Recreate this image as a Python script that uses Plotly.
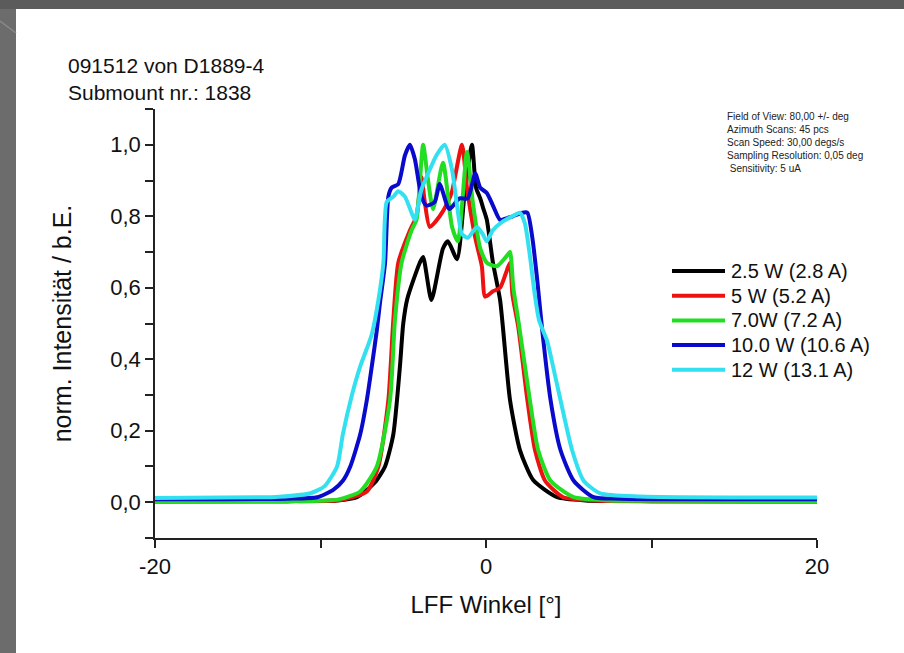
import plotly.graph_objects as go

# ---------------- data ----------------
series_names = ["2.5 W (2.8 A)", "5 W (5.2 A)", "7.0W (7.2 A)", "10.0 W (10.6 A)", "12 W (13.1 A)"]
series_colors = ["#000000", "#ee1111", "#22dd22", "#0a0acc", "#33e0f0"]

angle_25w = [-20, -12, -9, -7.8, -6.7, -6.1, -5.6, -5.2, -5.0, -4.75, -4.0, -3.8, -3.3, -2.6, -2.3,
             -1.75, -1.3, -0.85, -0.6, -0.35, -0.15, 0.05, 0.42, 0.85, 1.45, 2.05, 2.85, 4.3, 6, 10, 20]
intens_25w = [0.003, 0.003, 0.005, 0.014, 0.056, 0.1, 0.19, 0.38, 0.5, 0.57, 0.67, 0.686, 0.566, 0.71, 0.73,
              0.68, 0.86, 1.0, 0.88, 0.85, 0.82, 0.79, 0.67, 0.566, 0.286, 0.146, 0.062, 0.014, 0.005, 0.003, 0.003]

angle_5w = [-20, -12, -8.8, -7.2, -6.5, -5.9, -5.6, -5.3, -4.6, -4.2, -3.9, -3.7, -3.4, -2.8, -2.3, -2.05,
            -1.45, -1.15, -0.65, -0.25, -0.05, 0.42, 0.85, 1.27, 1.45, 1.6, 1.95, 2.5, 2.96, 3.57, 4.66, 6.9, 10, 20]
intens_5w = [0.002, 0.003, 0.006, 0.03, 0.1, 0.286, 0.51, 0.67, 0.76, 0.80, 0.91, 0.84, 0.77, 0.80, 0.84, 0.87,
             1.0, 0.88, 0.74, 0.66, 0.575, 0.59, 0.60, 0.65, 0.67, 0.58, 0.49, 0.286, 0.146, 0.06, 0.014, 0.004, 0.003, 0.002]

angle_7w = [-20, -10, -8.9, -7.6, -6.6, -5.8, -5.5, -5.1, -4.5, -4.2, -3.8, -3.5, -3.2, -2.6, -2.05, -1.7,
            -1.15, -0.8, -0.35, 0.05, 0.65, 1.27, 1.45, 1.65, 1.95, 2.65, 3.15, 3.9, 5.3, 7.5, 10, 20]
intens_7w = [0.003, 0.004, 0.008, 0.03, 0.1, 0.286, 0.51, 0.67, 0.76, 0.79, 1.0, 0.9, 0.82, 0.95, 0.77, 0.73,
             0.98, 0.84, 0.71, 0.67, 0.66, 0.69, 0.70, 0.60, 0.51, 0.286, 0.146, 0.06, 0.014, 0.005, 0.004, 0.003]

angle_10w = [-20, -12, -10.2, -9.25, -8.65, -8.2, -7.6, -7.2, -6.9, -6.6, -6.4, -6.1, -5.9, -5.7, -5.3, -4.9,
             -4.6, -4.3, -3.9, -3.6, -3.1, -2.8, -2.35, -2.2, -1.6, -1.1, -0.65, -0.35, 0.05, 0.42, 0.85, 1.27,
             1.63, 2.2, 2.5, 2.8, 3.1, 3.4, 3.9, 4.5, 5.3, 6.5, 8.1, 20]
intens_10w = [0.008, 0.01, 0.014, 0.034, 0.06, 0.1, 0.19, 0.286, 0.38, 0.48, 0.56, 0.67, 0.855, 0.88, 0.89, 0.97,
              1.0, 0.96, 0.855, 0.83, 0.84, 0.89, 0.83, 0.82, 0.85, 0.85, 0.92, 0.88, 0.865, 0.83, 0.79, 0.795,
              0.80, 0.81, 0.81, 0.74, 0.62, 0.48, 0.286, 0.146, 0.06, 0.014, 0.01, 0.008]

angle_12w = [-20, -13, -12.5, -10.6, -9.75, -9.0, -8.65, -8.1, -7.6, -7.2, -6.9, -6.5, -6.2, -6.0, -5.6, -5.3,
             -4.9, -4.5, -4.3, -3.9, -3.4, -3.0, -2.5, -2.05, -1.75, -1.45, -1.1, -0.55, -0.2, 0.05, 0.4, 1.0,
             1.6, 2.05, 2.35, 2.65, 2.95, 3.2, 3.7, 4.05, 4.5, 5.2, 5.9, 6.9, 9.3, 20]
intens_12w = [0.012, 0.014, 0.015, 0.025, 0.045, 0.1, 0.19, 0.3, 0.38, 0.43, 0.47, 0.566, 0.67, 0.84, 0.855, 0.87,
              0.855, 0.81, 0.79, 0.875, 0.93, 0.97, 1.0, 0.93, 0.83, 0.75, 0.74, 0.77, 0.75, 0.73, 0.76, 0.785,
              0.80, 0.81, 0.78, 0.69, 0.58, 0.51, 0.45, 0.38, 0.286, 0.146, 0.06, 0.025, 0.016, 0.013]

angles = [angle_25w, angle_5w, angle_7w, angle_10w, angle_12w]
intensities = [intens_25w, intens_5w, intens_7w, intens_10w, intens_12w]

x_tickvals = [-20, 0, 20]
x_ticktext = ["-20", "0", "20"]

header_text = "091512 von D1889-4<br>Submount nr.: 1838"
info_text = ("Field of View: 80,00 +/- deg<br>Azimuth Scans: 45 pcs<br>Scan Speed: 30,00 degs/s"
             "<br>Sampling Resolution: 0,05 deg<br> Sensitivity: 5 uA")
x_title = "LFF Winkel [°]"
y_title = "norm. Intensität / b.E."

# ---------------- figure ----------------
FONT = "Liberation Sans, Arial, sans-serif"
W, H = 904, 653
L, R, T, B = 155, 87, 109, 115
PW, PH = W - L - R, H - T - B


def px_x(px):
    return (px - L) / PW


def px_y(py):
    return (H - B - py) / PH


fig = go.Figure()
for name, xs, ys, col in zip(series_names, angles, intensities, series_colors):
    fig.add_trace(go.Scatter(x=xs, y=ys, mode="lines", name=name, showlegend=False,
                             line=dict(color=col, width=4, shape="spline", smoothing=0.6)))

axis_common = dict(showgrid=False, zeroline=False, showline=True, linecolor="#222222", linewidth=1.5,
                   ticks="outside", ticklen=8, tickwidth=1.5, tickcolor="#222222",
                   tickfont=dict(size=22, color="#111111", family=FONT))

fig.update_layout(
    width=W, height=H,
    margin=dict(l=L, r=R, t=T, b=B),
    paper_bgcolor="#6c6c6c", plot_bgcolor="white",
    separators=",.",
    font=dict(family=FONT, color="#111111"),
    xaxis=dict(range=[-20, 20], tickmode="array", tickvals=x_tickvals, ticktext=x_ticktext,
               minor=dict(tickmode="linear", dtick=10, tick0=-20, ticks="outside", ticklen=8, tickwidth=1.5,
                          tickcolor="#222222"),
               title=dict(text=x_title, font=dict(size=24), standoff=18), **axis_common),
    yaxis=dict(range=[-0.1001, 1.1001], tick0=0, dtick=0.2, tickformat=".1f",
               minor=dict(dtick=0.1, tick0=0, ticks="outside", ticklen=8, tickwidth=1.5, tickcolor="#222222"),
               title=dict(text=y_title, font=dict(size=25), standoff=32), **axis_common),
    showlegend=False,
)

# slide-like frame: gray border with white sheet
fig.add_shape(type="rect", xref="paper", yref="paper", x0=px_x(-5), x1=px_x(910), y0=px_y(-5), y1=px_y(9),
              fillcolor="#5b5b5b", line_width=0, layer="below")
fig.add_shape(type="rect", xref="paper", yref="paper", x0=px_x(16), x1=px_x(910), y0=px_y(660), y1=px_y(9),
              fillcolor="white", line_width=0, layer="below")
fig.add_shape(type="line", xref="paper", yref="paper", x0=px_x(0), y0=px_y(21), x1=px_x(16), y1=px_y(33),
              line=dict(color="#8a8a8a", width=1.5), layer="below")

# legend drawn as line samples + text (long line samples as in the reference)
leg_x0, leg_x1, leg_top, leg_step = 672, 725, 271, 24.7
for i, (name, col) in enumerate(zip(series_names, series_colors)):
    yy = px_y(leg_top + i * leg_step)
    fig.add_shape(type="line", xref="paper", yref="paper", x0=px_x(leg_x0), x1=px_x(leg_x1), y0=yy, y1=yy,
                  line=dict(color=col, width=4))
    fig.add_annotation(text=name, xref="paper", yref="paper", x=px_x(leg_x1 + 4), y=yy,
                       xanchor="left", yanchor="middle", showarrow=False,
                       font=dict(size=20, color="#111111", family=FONT))

fig.add_annotation(text=header_text, xref="paper", yref="paper", x=px_x(66), y=px_y(52),
                   xanchor="left", yanchor="top", align="left", showarrow=False,
                   font=dict(size=21, color="#111111", family=FONT))
fig.add_annotation(text=info_text, xref="paper", yref="paper", x=px_x(725), y=px_y(109),
                   xanchor="left", yanchor="top", align="left", showarrow=False,
                   font=dict(size=10, color="#222222", family=FONT))

fig.write_html("out.html", config={"displayModeBar": False},
               post_script="document.body.style.margin='0';document.body.style.overflow='hidden';")
